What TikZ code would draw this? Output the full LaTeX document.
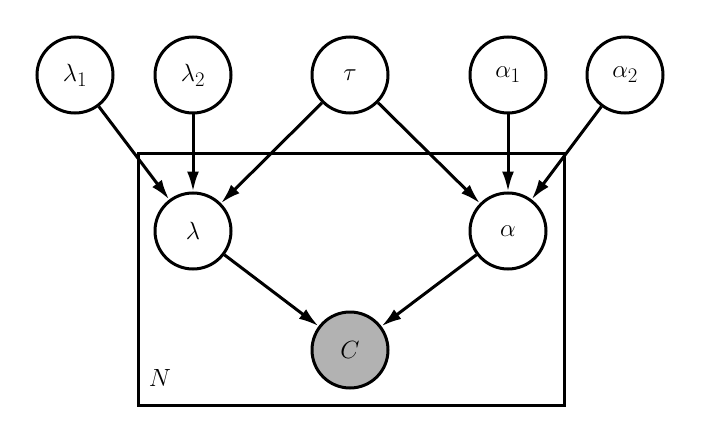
\documentclass[tikz,border=0pt]{standalone}
\usetikzlibrary{arrows.meta}
\begin{document}
\begin{tikzpicture}[x=1pt,y=-1pt,
  var/.style={circle,draw,line width=3pt,minimum size=76pt,inner sep=0pt,font=\fontsize{29}{33}\selectfont},
  obs/.style={var,fill=black!30},
  edge/.style={line width=3pt,-{Latex[length=20pt,width=12pt]}},
  plate/.style={draw,line width=3pt}]
\useasboundingbox (0,0) rectangle (701,441);
\node[var] (l1) at (75,75) {$\lambda_1$};
\node[var] (l2) at (193,75) {$\lambda_2$};
\node[var] (tau) at (350,75) {$\tau$};
\node[var] (a1) at (508,75) {$\alpha_1$};
\node[var] (a2) at (625,75) {$\alpha_2$};
\node[var] (l) at (193,231) {$\lambda$};
\node[var] (a) at (508,231) {$\alpha$};
\node[obs] (c) at (350,350) {$C$};
\draw[plate] (138,153) rectangle (564,405);
\node[font=\fontsize{29}{33}\selectfont] (n) at (160,378) {$N$};
\draw[edge] (l1) -- (l);
\draw[edge] (l2) -- (l);
\draw[edge] (tau) -- (l);
\draw[edge] (tau) -- (a);
\draw[edge] (a1) -- (a);
\draw[edge] (a2) -- (a);
\draw[edge] (l) -- (c);
\draw[edge] (a) -- (c);
\end{tikzpicture}
\end{document}
